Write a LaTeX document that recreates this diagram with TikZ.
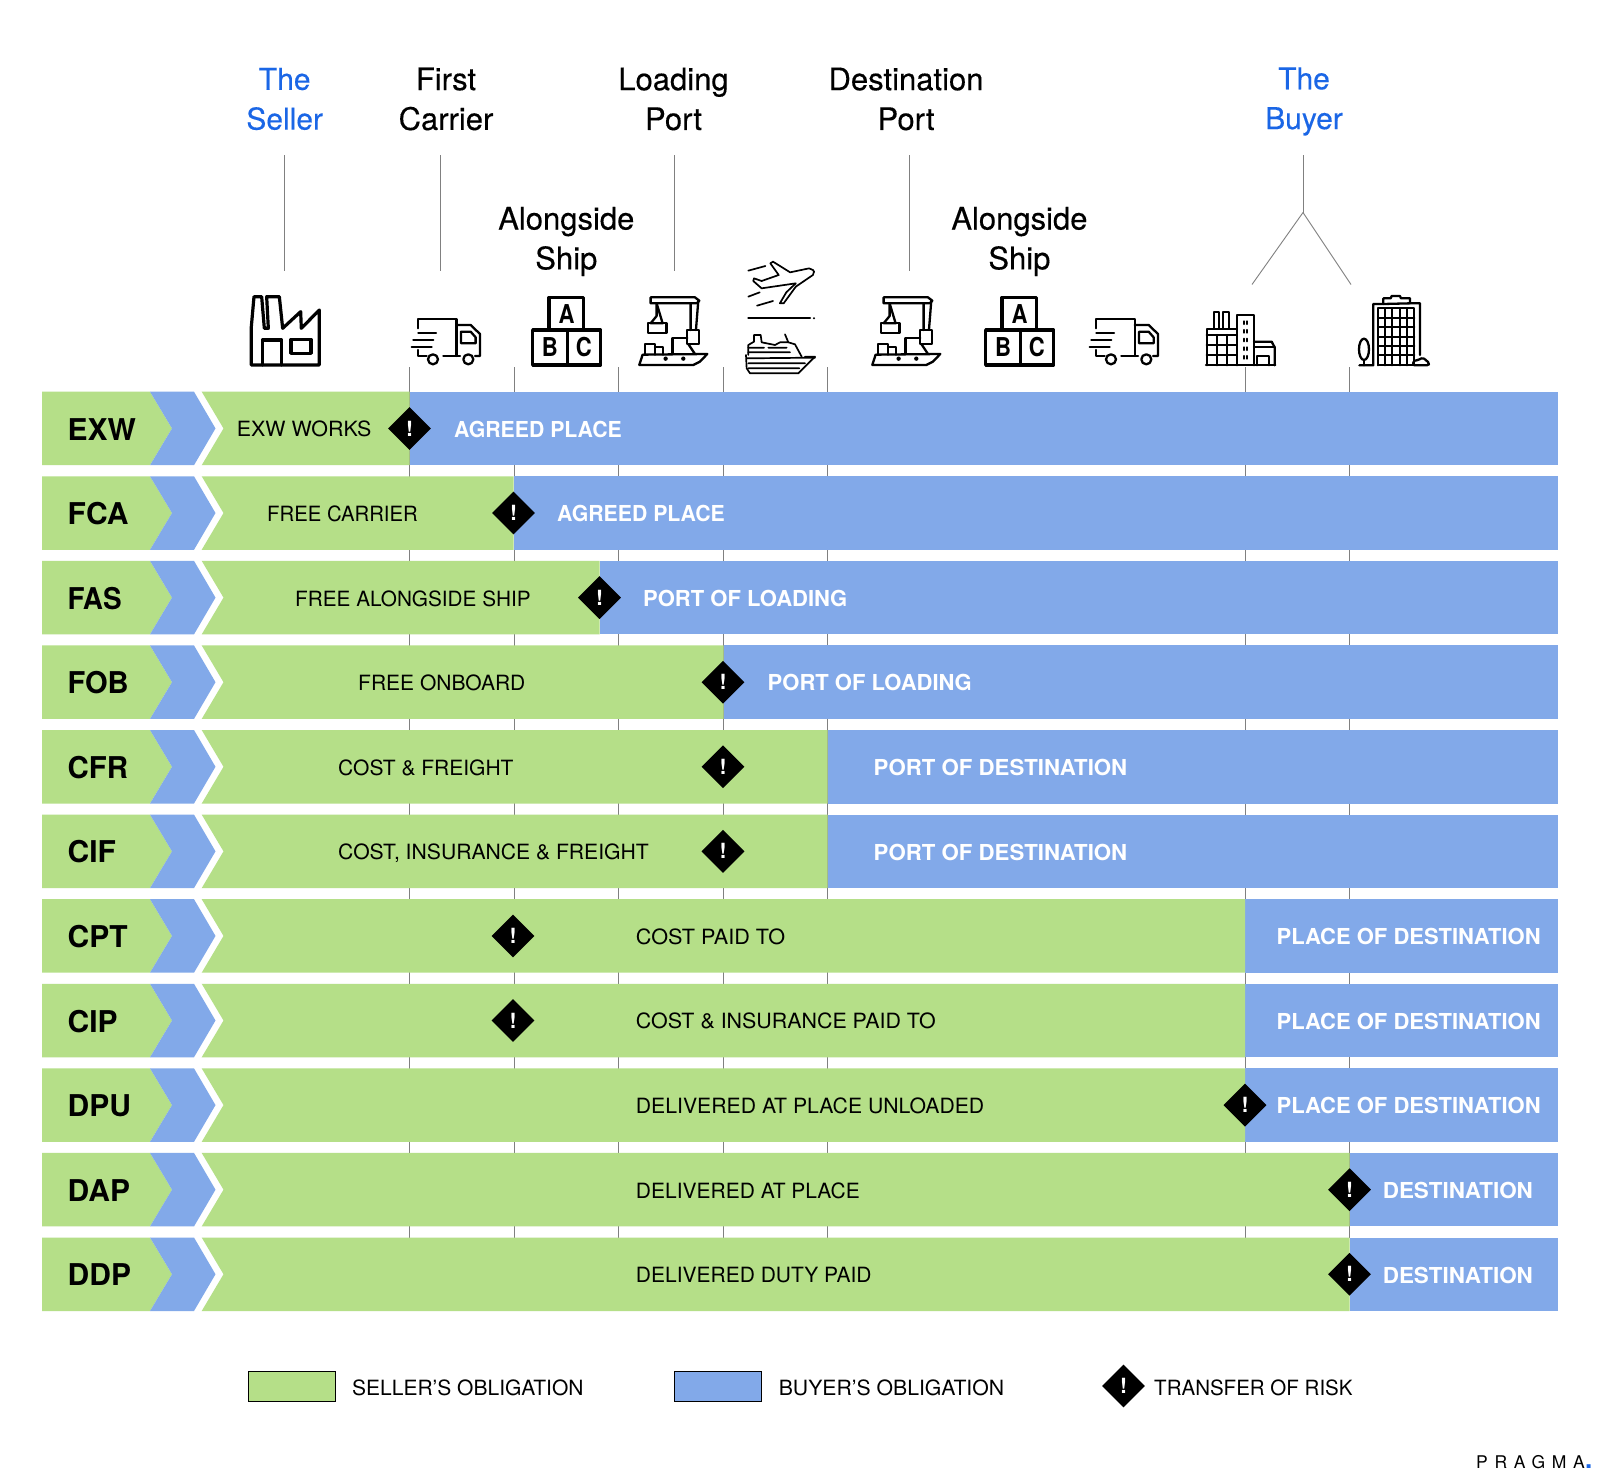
\documentclass[tikz,border=0pt]{standalone}
\usepackage{graphicx}
\usepackage{fontspec}
\setmainfont{TeX Gyre Heros}
\newfontfamily\headfont[FakeBold=0.3]{TeX Gyre Heros}
\usetikzlibrary{shapes.geometric}
\definecolor{sgreen}{HTML}{B5DF88}
\definecolor{bblue}{HTML}{82A9E9}
\definecolor{headblue}{HTML}{1A66E6}
\definecolor{tickgray}{HTML}{808080}
\newcommand{\hsc}[2]{\scalebox{#1}[1]{#2}}
\tikzset{
  greenfill/.style={fill=sgreen,draw=none},
  bluefill/.style={fill=bblue,draw=none},
  codelabel/.style={anchor=base west,inner sep=0pt,font=\fontsize{30}{32}\selectfont\bfseries,text=black},
  selltext/.style={anchor=base west,inner sep=0pt,font=\fontsize{21}{24}\selectfont,text=black},
  buytext/.style={anchor=base west,inner sep=0pt,font=\fontsize{22}{24}\selectfont\bfseries,text=white},
  risk/.style={shape=diamond,aspect=1,fill=black,inner sep=0pt,minimum width=43pt,minimum height=43pt,text=white,font=\fontsize{21}{24}\selectfont\bfseries},
  heading/.style={align=center,inner sep=0pt,font=\headfont\fontsize{31}{39.8}\selectfont,text=black},
  headingblue/.style={heading,text=headblue,font=\headfont\fontsize{30}{39.8}\selectfont},
  tick/.style={draw=tickgray,line width=1pt},
  lead/.style={draw=tickgray,line width=0.9pt},
  iconline/.style={draw=black,line width=2.3pt,line join=round,line cap=round},
  iconbold/.style={draw=black,line width=3.2pt,line join=round,line cap=round},
  iconthin/.style={draw=black,line width=1.7pt,line join=round,line cap=round},
  iconletter/.style={inner sep=0pt,font=\fontsize{26}{28}\selectfont\bfseries,text=black},
  legendbox/.style={draw=black,line width=0.8pt},
}
\newcommand{\IconTruck}[1]{%
 \begin{scope}[shift={(#1,0)},shift={(230,260)},x=0.3333pt,y=-0.3333pt]
  \draw[iconline] (565,205)--(565,178)--(680,178)--(680,288);
  \draw[iconline] (640,288)--(690,288);
  \draw[iconline] (680,195)--(722,195)--(750,222)--(750,288)--(735,288);
  \draw[iconline] (693,215)--(722,215)--(737,232)--(737,250)--(693,250)--cycle;
  \draw[iconline] (609,298) circle[radius=15];
  \draw[iconline] (715,298) circle[radius=15];
  \draw[iconline] (565,270)--(565,288)--(590,288);
  \draw[iconline] (565,220)--(618,220) (550,240)--(610,240) (545,260)--(605,260);
 \end{scope}}
\newcommand{\IconBlocks}[1]{%
 \begin{scope}[shift={(#1,0)},shift={(230,260)},x=0.3333pt,y=-0.3333pt]
  \draw[iconbold] (957,210)--(957,112)--(1060,112)--(1060,210);
  \draw[iconbold] (908,210) rectangle (1112,315);
  \draw[iconbold] (1012,210)--(1012,315);
  \node[iconletter] at (1010,163) {\hsc{.85}{A}};
  \node[iconletter] at (960,262) {\hsc{.85}{B}};
  \node[iconletter] at (1062,262) {\hsc{.85}{C}};
 \end{scope}}
\newcommand{\IconCrane}[1]{%
 \begin{scope}[shift={(#1,0)},shift={(230,260)},x=0.3333pt,y=-0.3333pt]
  \draw[iconline] (1262,112)--(1395,112)--(1408,122)--(1400,130)--(1262,130)--cycle;
  \draw[iconline] (1382,130)--(1382,210) (1405,122)--(1398,210);
  \draw[iconline] (1280,130)--(1280,168)--(1262,190)--(1298,190)--cycle;
  \draw[iconline] (1254,190) rectangle (1310,218);
  \draw[iconline] (1372,210) rectangle (1407,252);
  \draw[iconline] (1228,315)--(1238,284)--(1432,282)--(1410,305)--(1390,315)--cycle;
  \draw[iconline] (1328,282)--(1328,235)--(1372,235);
  \draw[iconline] (1375,252)--(1395,282);
  \draw[iconline] (1246,284)--(1246,252)--(1275,252)--(1275,284) (1275,262)--(1300,262)--(1300,284);
  \fill (1307,296) circle[radius=6.5] (1360,296) circle[radius=6.5];
 \end{scope}}
\begin{document}
\begin{tikzpicture}[x=1pt,y=-1pt]
\useasboundingbox (0,0) rectangle (1600,1477);
\fill[white] (0,0) rectangle (1600,1477);

% vertical ticks behind the rows
\foreach \tx/\tn in {409.5/a,514.5/b,618.5/c,723.5/d,827.5/e,1245.5/f,1349.5/g}{
  \coordinate (tick\tn top) at (\tx,367);
  \coordinate (tick\tn bot) at (\tx,1238);
  \draw[tick] (tick\tn top)--(tick\tn bot);
}

% rows
\foreach \i/\code/\bd/\sell/\sx/\buy/\bx/\dx in {
 0/EXW/409.5/{\hsc{1.02}{EXW WORKS}}/236.7/{\hsc{.966}{AGREED PLACE}}/454/409.5,
 1/FCA/513.5/{\hsc{.967}{FREE CARRIER}}/267/{\hsc{.966}{AGREED PLACE}}/557/513.5,
 2/{\hsc{.93}{FAS}}/599.5/{\hsc{.988}{FREE ALONGSIDE SHIP}}/295/{PORT OF LOADING}/643/599.5,
 3/{\hsc{.97}{FOB}}/723.5/{FREE ONBOARD}/358/{PORT OF LOADING}/767.5/723,
 4/{\hsc{.98}{CFR}}/827.5/{COST \& FREIGHT}/338/{\hsc{1.01}{PORT OF DESTINATION}}/873.5/723,
 5/CIF/827.5/{\hsc{1.007}{COST, INSURANCE \& FREIGHT}}/338/{\hsc{1.01}{PORT OF DESTINATION}}/873.5/723,
 6/CPT/1245/{\hsc{1.03}{COST PAID TO}}/635.7/{PLACE OF DESTINATION}/1276.5/513,
 7/CIP/1245/{\hsc{1.02}{COST \& INSURANCE PAID TO}}/635.7/{PLACE OF DESTINATION}/1276.5/513,
 8/DPU/1245/{\hsc{1.01}{DELIVERED AT PLACE UNLOADED}}/635.7/{PLACE OF DESTINATION}/1276.5/1245,
 9/DAP/1349.5/{DELIVERED AT PLACE}/635.7/{\hsc{1.02}{DESTINATION}}/1382.6/1349.5,
 10/DDP/1349.5/{DELIVERED DUTY PAID}/635.7/{\hsc{1.02}{DESTINATION}}/1382.6/1349.5}{
  \pgfmathsetmacro{\yt}{391.7+84.58*\i}
  \pgfmathsetmacro{\yb}{\yt+73.5}
  \pgfmathsetmacro{\ym}{\yt+36.75}
  \fill[bluefill] (\bd,\yt)--(1558,\yt)--(1558,\yb)--(\bd,\yb)--cycle;
  \fill[greenfill] (42,\yt)--(150,\yt)--(172,\ym)--(150,\yb)--(42,\yb)--cycle;
  \fill[bluefill] (150,\yt)--(194,\yt)--(215.5,\ym)--(194,\yb)--(150,\yb)--(172,\ym)--cycle;
  \fill[greenfill] (201.7,\yt)--(\bd,\yt)--(\bd,\yb)--(201.7,\yb)--(223.5,\ym)--cycle;
  \node[codelabel] (code\i) at (67.5,\ym+11.6) {\code};
  \node[selltext] (sell\i) at (\sx,\ym+8.4) {\sell};
  \node[buytext] (buy\i) at (\bx,\ym+8.8) {\buy};
  \node[risk] (risk\i) at (\dx,\ym) {!};
}

% headings
\node[headingblue] (seller) at (284.7,99) {The\\Seller};
\node[heading] (carrier) at (446,99) {First\\Carrier};
\node[heading] (loading) at (673.5,99) {Loading\\Port};
\node[heading] (dest) at (906,99) {Destination\\Port};
\node[headingblue] (buyer) at (1304,101.5) {The\\Buyer};
\node[heading] (along1) at (566.3,241.5) {Alongside\\Ship};
\node[heading] (along2) at (1019.4,241.5) {Alongside\\Ship};

% leader lines
\coordinate (sellerT) at (284.7,155); \coordinate (sellerB) at (284.7,270.5);
\coordinate (carrierT) at (440,155); \coordinate (carrierB) at (440,270.5);
\coordinate (loadingT) at (674.5,155); \coordinate (loadingB) at (674.5,270.5);
\coordinate (destT) at (909,155); \coordinate (destB) at (909,270.5);
\coordinate (buyerT) at (1303,155); \coordinate (buyerM) at (1303,212.5);
\coordinate (buyerL) at (1252,284.5); \coordinate (buyerR) at (1351,284.5);
\draw[lead] (sellerT)--(sellerB);
\draw[lead] (carrierT)--(carrierB);
\draw[lead] (loadingT)--(loadingB);
\draw[lead] (destT)--(destB);
\draw[lead] (buyerT)--(buyerM);
\draw[lead] (buyerM)--(buyerL);
\draw[lead] (buyerM)--(buyerR);

% factory
\begin{scope}[shift={(230,260)},x=0.3333pt,y=-0.3333pt]
 \draw[iconbold] (64,315)--(64,200)--(72,110)--(95,110)--(103,205)--(115,205)--(110,110)--(148,110)--(158,205)--(212,155)--(214,205)--(268,150)--(268,315)--cycle;
 \draw[iconbold] (97,315)--(97,240)--(155,240)--(155,315);
 \draw[iconbold] (183,238) rectangle (243,280);
\end{scope}
\IconTruck{0}
\IconBlocks{0}
\IconCrane{0}
\IconCrane{233}
\IconBlocks{453}
\IconTruck{678}

% plane
\begin{scope}[shift={(738.8,255)},x=0.38pt,y=-0.3333pt]
 \draw[iconthin] (195,45)--(185,40)--(135,52)--(90,20)--(83,25)--(105,60)--(60,78)--(40,70)--(38,78)--(60,100)--(150,85)--(125,112)--(108,145)--(118,145)--(150,95)--(195,60)--(198,50)--cycle;
 \draw[iconthin] (25,47)--(70,33) (25,125)--(55,112) (48,152)--(90,138);
\end{scope}
% divider, cruise ship
\begin{scope}[shift={(740,255)},x=0.3333pt,y=-0.3333pt]
 \draw[iconline] (25,190)--(210,190);
 \fill (222,190) circle[radius=3.5];
 \draw[iconthin] (18,300)--(20,340)--(30,355)--(175,355)--(225,305)--(195,305);
 \draw[iconthin] (25,300)--(25,270)--(42,260)--(42,240)--(62,240)--(65,262)--(105,270)--(120,262)--(145,262)--(135,238) (145,262)--(165,268)--(185,305);
 \draw[iconthin] (25,278)--(72,278) (85,278)--(140,278) (25,292)--(150,292) (20,310)--(225,308) (25,325)--(195,325) (25,340)--(178,340);
\end{scope}

% buildings
\begin{scope}[shift={(1200,290)},x=0.3333pt,y=-0.3333pt]
 \draw[iconline] (18,226)--(226,226);
 \draw[iconline] (20,226)--(20,118)--(110,118);
 \draw[iconline] (20,135)--(110,135);
 \draw[iconline] (42,115)--(42,65)--(58,65)--(58,115);
 \draw[iconline] (70,115)--(70,65)--(87,65)--(87,115);
 \draw[iconline] (20,165)--(110,165) (20,195)--(110,195) (50,135)--(50,226) (82,135)--(82,226);
 \draw[iconline] (112,226)--(112,75)--(162,75)--(162,226);
 \foreach \wy in {98,124,150,176,202}{\draw[iconline] (131,\wy-4)--(131,\wy+4) (142,\wy-4)--(142,\wy+4);}
 \draw[iconline] (162,155)--(215,155)--(224,172)--(224,226);
 \draw[iconline] (162,172)--(224,172);
 \draw[iconline] (172,226)--(172,197)--(207,197)--(207,226);
 % office
 \draw[iconline] (478,226)--(520,226)--(520,42)--(550,42)--(550,25)--(572,25)--(575,18)--(600,18)--(603,25)--(630,25)--(630,40)--(660,40)--(660,195);
 \draw[iconline] (550,42)--(630,40);
 \draw[iconline] (535,226)--(535,55)--(643,55)--(643,226);
 \draw[iconline] (535,226)--(640,226);
 \foreach \gx in {555,577,600,622}{\draw[iconline] (\gx,55)--(\gx,226);}
 \foreach \gy in {85,112,140,168,195}{\draw[iconline] (535,\gy)--(643,\gy);}
 \draw[iconline] (492,178) ellipse[x radius=15,y radius=32];
 \draw[iconline] (492,210)--(492,226);
 \draw[iconline,rounded corners=1.5pt] (640,226)--(640,213)--(655,210)--(668,203)--(680,212)--(688,220)--(685,226)--cycle;
\end{scope}

% legend
\node[legendbox,fill=sgreen,minimum width=87pt,minimum height=29.5pt,inner sep=0pt] (legS) at (291.5,1386.5) {};
\node[selltext,anchor=base west] (legST) at (352,1395) {SELLER’S OBLIGATION};
\node[legendbox,fill=bblue,minimum width=87pt,minimum height=29.5pt,inner sep=0pt] (legB) at (718,1386.5) {};
\node[selltext,anchor=base west] (legBT) at (778.6,1395) {\hsc{1.01}{BUYER’S OBLIGATION}};
\node[risk] (legR) at (1123.5,1386) {!};
\node[selltext,anchor=base west] (legRT) at (1154,1395) {\hsc{.977}{TRANSFER OF RISK}};

% brand
\node[anchor=base west,inner sep=0pt,font=\fontsize{17.5}{20}\selectfont\addfontfeatures{LetterSpace=38}] (brand) at (1476,1468.5) {PRAGMA};
\node[anchor=base west,inner sep=0pt,font=\fontsize{26}{30}\selectfont\bfseries,text=headblue] (brandDot) at (1585,1468.5) {.};
\end{tikzpicture}
\end{document}
